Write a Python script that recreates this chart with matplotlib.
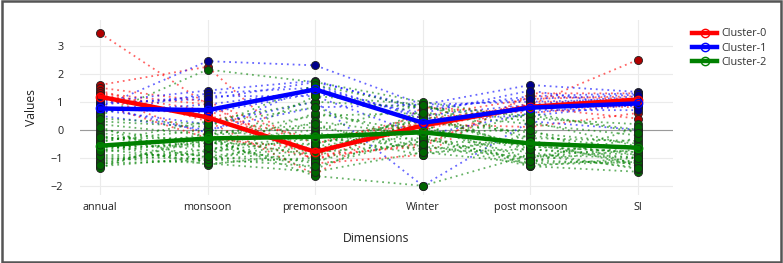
import matplotlib
matplotlib.use("Agg")
import matplotlib.pyplot as plt
from matplotlib.patches import Rectangle

plt.rcParams['font.family'] = ['Open Sans', 'DejaVu Sans']

dimensions = ["annual", "monsoon", "premonsoon", "Winter", "post monsoon", "SI"]
y_ticks = [-2, -1, 0, 1, 2, 3]

# individual members, each list = values across the six dimensions
cluster0_members = [
    [3.45, 0.9, -0.9, 0.3, 0.9, 2.5],
    [1.6, 2.25, -1.2, -0.9, 1.3, 1.3],
    [1.5, 1.0, -0.5, 0.5, 1.1, 1.2],
    [1.4, 0.3, -1.6, 0.8, 0.6, 0.9],
    [1.2, -0.2, -1.0, -0.5, 1.0, 1.0],
    [1.1, 0.5, -0.3, 0.2, 0.1, 0.6],
    [0.9, -0.3, -0.7, 0.0, 0.9, 0.8],
    [1.3, 0.9, -1.1, 0.4, 0.8, 0.4],
    [1.25, 0.7, -0.9, -0.6, 1.2, 1.1],
]
cluster1_members = [
    [0.8, 2.45, 2.3, 0.9, 1.6, 1.35],
    [1.0, 1.4, 1.75, 0.7, 1.2, 1.3],
    [0.6, 1.3, 1.5, 0.5, 0.9, 1.2],
    [0.9, 1.2, 1.2, -0.2, 0.6, 1.0],
    [0.7, 0.2, 1.0, -2.0, 0.3, 0.0],
    [0.5, 0.0, 0.8, 0.9, 1.0, 1.1],
    [0.85, -0.1, 1.6, 0.4, 0.5, 0.9],
    [0.75, 0.6, 1.3, 0.6, 1.4, 0.8],
    [0.95, 1.1, 1.7, 0.8, 1.1, 1.25],
    [0.65, 0.9, 1.4, 0.3, 0.7, 0.7],
]
cluster2_members = [
    [0.5, 2.15, 1.7, 1.0, 0.4, 0.2],
    [0.3, 0.1, 1.6, 0.8, 0.5, 0.0],
    [0.2, -0.2, 0.5, 0.6, 0.2, -0.2],
    [0.0, -0.5, 0.0, 0.9, -0.3, -0.4],
    [-0.1, -0.8, -0.3, 0.3, -0.1, -0.5],
    [-0.2, -1.0, -0.6, 0.0, -0.6, -0.8],
    [-0.3, -0.3, -1.65, -2.0, -0.9, -1.0],
    [-0.4, 0.0, -0.4, -0.3, -1.1, -1.2],
    [-0.5, -1.25, -0.8, -0.5, -1.3, -1.5],
    [-0.6, -0.6, -1.2, 0.5, -0.7, -0.9],
    [-0.7, -1.1, -0.1, -0.7, -0.4, -1.3],
    [-0.8, -0.4, -1.4, 0.1, -1.0, -0.6],
    [-0.9, -0.9, 0.3, -0.2, -1.2, -1.1],
    [-1.0, -1.2, -1.0, 0.7, -0.8, -1.4],
    [-1.1, -0.7, -0.2, -0.9, -0.2, -0.7],
    [-1.2, -1.1, -0.7, 0.2, -1.3, -1.0],
    [-1.3, -1.0, -1.1, -0.4, -0.5, -1.2],
    [-1.35, -0.2, 0.1, -0.6, -1.0, -0.3],
    [-0.65, -0.5, -0.5, 0.4, -0.6, -0.8],
    [-1.15, -0.8, 0.6, -0.1, 0.0, -1.3],
    [0.1, -1.2, -1.5, -0.8, -1.2, 0.1],
    [-0.45, 0.3, 1.0, 0.8, 0.3, -0.6],
    [-0.25, -0.6, 1.2, 0.9, -0.4, -0.9],
    [-0.95, -1.05, -1.3, -0.3, -1.25, -1.15],
    [-1.25, -0.35, -0.9, 0.6, -0.9, -1.35],
    [0.4, 0.2, 0.8, -0.5, 0.6, -0.1],
    [-0.55, -0.95, -0.5, 0.2, -1.1, -0.7],
    [-0.75, -0.15, 0.2, -0.8, -0.7, -1.0],
]

# cluster centre lines
cluster0_mean = [1.18, 0.44, -0.79, 0.15, 0.82, 1.08]
cluster1_mean = [0.76, 0.70, 1.44, 0.25, 0.79, 0.94]
cluster2_mean = [-0.57, -0.31, -0.25, -0.09, -0.49, -0.64]

names = ["Cluster-0", "Cluster-1", "Cluster-2"]
line_colors = ["#ff0000", "#0000ff", "#008000"]
marker_colors = ["#b00000", "#00008b", "#006400"]

fig = plt.figure(figsize=(7.83, 2.63), dpi=100)
ax = fig.add_axes([80/783, 1-195/263, (673-80)/783, (195-20)/263])

xs = list(range(len(dimensions)))
members = [cluster0_members, cluster1_members, cluster2_members]
means = [cluster0_mean, cluster1_mean, cluster2_mean]

for c in range(3):
    for m in members[c]:
        ax.plot(xs, m, linestyle=(0, (1, 2.2)), lw=1.3, color=line_colors[c], alpha=0.6,
                zorder=2)
        ax.plot(xs, m, linestyle='none', marker='o', ms=5.8, mfc=marker_colors[c],
                mec='#202020', mew=0.6, zorder=3)

for c in range(3):
    ax.plot(xs, means[c], color=line_colors[c], lw=3.2, marker='o', ms=6,
            mfc='none', mec=line_colors[c], mew=1.0, label=names[c], zorder=5)

ax.set_xlim(-0.186, 5.325)
ax.set_ylim(-2.33, 3.92)
ax.set_xticks(xs)
ax.set_xticklabels(dimensions)
ax.set_yticks(y_ticks)
ax.set_yticklabels([str(t).replace('-', '\u2212') for t in y_ticks])
ax.grid(True, color='#ebebeb', lw=0.8, zorder=0)
ax.set_axisbelow(True)
ax.axhline(0, color='#9a9a9a', lw=0.8, zorder=1)
for s in ax.spines.values():
    s.set_visible(False)
ax.tick_params(length=0, labelsize=7.8, colors='#222222')
ax.tick_params(axis='x', pad=5)
ax.tick_params(axis='y', pad=12)
ax.set_xlabel("Dimensions", fontsize=8.7, color='#222222', labelpad=14)
ax.set_ylabel("Values", fontsize=8.7, color='#222222', labelpad=9)

leg = ax.legend(loc='upper left', bbox_to_anchor=(688/783, 1-24/263),
                bbox_transform=fig.transFigure, frameon=False, fontsize=7.8,
                handlelength=2.3, handletextpad=0.4, labelspacing=0.3, borderaxespad=0)
for t in leg.get_texts():
    t.set_color('#333333')

fig.patches.append(Rectangle((0.002, 0.004), 0.996, 0.992, transform=fig.transFigure,
                             fill=False, edgecolor='#555555', lw=1.8))

fig.savefig("out.png", dpi=100)
